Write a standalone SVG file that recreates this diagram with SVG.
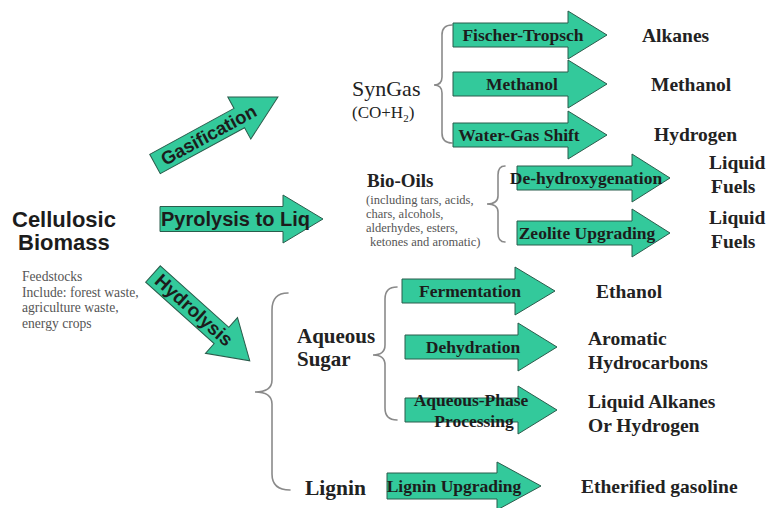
<svg xmlns="http://www.w3.org/2000/svg" width="768" height="508" viewBox="0 0 768 508">
<style>
.arr{fill:#33c99b;stroke:#2b5c4c;stroke-width:1}
.brace{fill:none;stroke:#8a8a8a;stroke-width:1.6;stroke-linecap:round}
.lbl{font-family:"Liberation Serif",serif;font-weight:bold;font-size:17.5px;fill:#1c1c1c;text-anchor:middle}
.slbl{font-family:"Liberation Sans",Arial,sans-serif;font-weight:bold;fill:#1c1c1c}
.out{font-family:"Liberation Serif",serif;font-weight:bold;font-size:19.5px;fill:#222}
.mid{font-family:"Liberation Serif",serif;fill:#222}
.small{font-family:"Liberation Serif",serif;font-size:12.5px;fill:#555}
.feed{font-family:"Liberation Serif",serif;font-size:13.6px;fill:#555}
</style>
<rect width="768" height="508" fill="#ffffff"/>
<g id="connectors">
  <g id="braces">
    <path class="brace" d="M452,25 Q442,25 442,35 L442,77 Q442,85 434,85 Q442,85 442,93 L442,133 Q442,143 452,143"/>
    <path class="brace" d="M505,166 Q498,166 498,175 L498,196 Q498,204 487,204 Q498,204 498,212 L498,233 Q498,242 505,242"/>
    <path class="brace" d="M288,293 Q272,293 272,310 L272,380 Q272,392 255,392 Q272,392 272,404 L272,474 Q272,490 290,490"/>
    <path class="brace" d="M397,287 Q385,287 385,299 L385,345 Q385,355 373,355 Q385,355 385,365 L385,408 Q385,420 397,420"/>
  </g>
  <g id="arrow-gasification" transform="translate(155,164) rotate(-28.6)">
    <path class="arr" d="M0,-11 H96 V-24 L140,0 L96,24 V11 H0 Z"/>
    <text class="slbl" x="8" y="6.5" font-size="18.5">Gasification</text>
  </g>
  <g id="arrow-pyrolysis">
    <path class="arr" d="M160,206.5 H283 V195 L323,219 L283,243 V231.5 H160 Z"/>
    <text class="slbl" x="161" y="226" font-size="20">Pyrolysis to Liq</text>
  </g>
  <g id="arrow-hydrolysis" transform="translate(153,274) rotate(41.9)">
    <path class="arr" d="M0,-11 H92 V-24 L130,0 L92,24 V11 H0 Z"/>
    <text class="slbl" x="6" y="6" font-size="19">Hydrolysis</text>
  </g>
  <g id="arrow-fischer">
    <path class="arr" d="M453,23 H568 V11 L607,35 L568,59 V47 H453 Z"/>
    <text class="lbl" x="523" y="41">Fischer-Tropsch</text>
  </g>
  <g id="arrow-methanol">
    <path class="arr" d="M453,72 H568 V60 L607,84 L568,108 V96 H453 Z"/>
    <text class="lbl" x="522" y="90">Methanol</text>
  </g>
  <g id="arrow-wgs">
    <path class="arr" d="M453,123 H568 V111 L607,135 L568,159 V147 H453 Z"/>
    <text class="lbl" x="519" y="141">Water-Gas Shift</text>
  </g>
  <g id="arrow-dehydroxy">
    <path class="arr" d="M517,166 H632 V154 L670,178 L632,202 V190 H517 Z"/>
    <text class="lbl" x="586" y="184">De-hydroxygenation</text>
  </g>
  <g id="arrow-zeolite">
    <path class="arr" d="M517,221 H632 V209 L670,233 L632,257 V245 H517 Z"/>
    <text class="lbl" x="587" y="239">Zeolite Upgrading</text>
  </g>
  <g id="arrow-fermentation">
    <path class="arr" d="M402,279 H515 V267 L555,291 L515,315 V303 H402 Z"/>
    <text class="lbl" x="470" y="297">Fermentation</text>
  </g>
  <g id="arrow-dehydration">
    <path class="arr" d="M405,335 H518 V323 L557,347 L518,371 V359 H405 Z"/>
    <text class="lbl" x="473" y="353">Dehydration</text>
  </g>
  <g id="arrow-aqueous-phase">
    <path class="arr" d="M405,398 H518 V386 L557,410 L518,434 V422 H405 Z"/>
    <text class="lbl" x="471" y="406">Aqueous-Phase</text>
    <text class="lbl" x="474" y="427">Processing</text>
  </g>
  <g id="arrow-lignin">
    <path class="arr" d="M387,473 H497 V462 L541,486 L497,510 V499 H387 Z"/>
    <text class="lbl" x="454" y="492">Lignin Upgrading</text>
  </g>
</g>
<g id="node-biomass">
  <text class="slbl" x="12" y="227" font-size="22" fill="#222">Cellulosic</text>
  <text class="slbl" x="18" y="250" font-size="22" fill="#222">Biomass</text>
  <text class="feed" x="22" y="281">Feedstocks</text>
  <text class="feed" x="22" y="296.5">Include: forest waste,</text>
  <text class="feed" x="22" y="312">agriculture waste,</text>
  <text class="feed" x="22" y="327.5">energy crops</text>
</g>
<g id="node-syngas">
  <text class="mid" x="352" y="96" font-size="22">SynGas</text>
  <text class="mid" x="352" y="118" font-size="17">(CO+H<tspan font-size="11" dy="4">2</tspan><tspan dy="-4">)</tspan></text>
</g>
<g id="node-biooils">
  <text class="mid" x="367" y="187" font-size="19" font-weight="bold">Bio-Oils</text>
  <text class="small" x="366" y="204">(including tars, acids,</text>
  <text class="small" x="366" y="218">chars, alcohols,</text>
  <text class="small" x="366" y="232">alderhydes, esters,</text>
  <text class="small" x="370" y="246">ketones and aromatic)</text>
</g>
<g id="node-aqueous-sugar">
  <text class="mid" x="297" y="343" font-size="21" font-weight="bold">Aqueous</text>
  <text class="mid" x="297" y="366" font-size="21" font-weight="bold">Sugar</text>
</g>
<g id="node-lignin">
  <text class="mid" x="305" y="495" font-size="21.5" font-weight="bold">Lignin</text>
</g>
<g id="node-alkanes"><text class="out" x="642" y="42">Alkanes</text></g>
<g id="node-methanol"><text class="out" x="651" y="91">Methanol</text></g>
<g id="node-hydrogen"><text class="out" x="654" y="141">Hydrogen</text></g>
<g id="node-liquid-fuels-1"><text class="out" x="709" y="169">Liquid</text><text class="out" x="711" y="193">Fuels</text></g>
<g id="node-liquid-fuels-2"><text class="out" x="709" y="224">Liquid</text><text class="out" x="711" y="248">Fuels</text></g>
<g id="node-ethanol"><text class="out" x="596" y="298">Ethanol</text></g>
<g id="node-aromatic"><text class="out" x="588" y="345">Aromatic</text><text class="out" x="588" y="369">Hydrocarbons</text></g>
<g id="node-liquid-alkanes"><text class="out" x="588" y="408">Liquid Alkanes</text><text class="out" x="588" y="432">Or Hydrogen</text></g>
<g id="node-etherified"><text class="out" x="581" y="493">Etherified gasoline</text></g>
</svg>
